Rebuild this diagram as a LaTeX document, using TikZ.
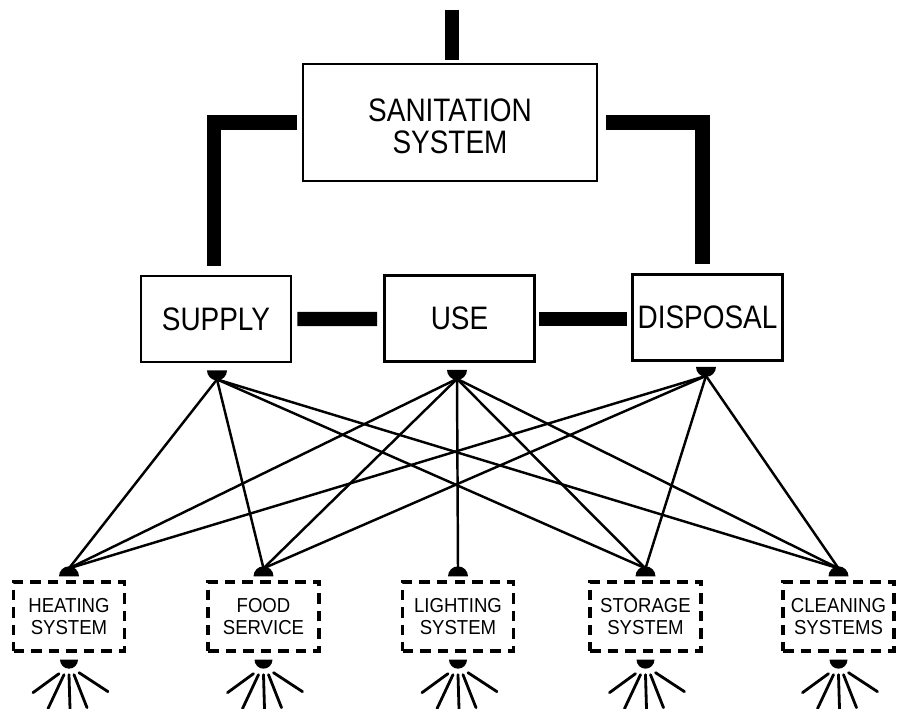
\documentclass[tikz,border=0pt]{standalone}
\usepackage{fontspec}
\usepackage{tikz}
\usetikzlibrary{calc}
\newfontfamily\handfont{Liberation Sans}[FakeStretch=0.86]
\newfontfamily\handsmall{Liberation Sans}[FakeStretch=0.92]
\colorlet{ink}{black}
\tikzset{
  mainbox/.style={draw=ink, line width=1.6pt, align=center, inner sep=0pt,
    font=\handfont\fontsize{18.5}{18.2}\selectfont, text=ink},
  topbox/.style={mainbox, minimum width=5.88cm, minimum height=2.34cm},
  midbox/.style={mainbox, minimum width=3.0cm, minimum height=1.72cm},
  % the dashed sub-system boxes
  subbox/.style={draw=ink, line width=1.9pt, dash pattern=on 6pt off 4pt,
    minimum width=2.22cm, minimum height=1.38cm, align=center, inner sep=0pt,
    font=\handsmall\fontsize{11.5}{12.8}\selectfont, text=ink},
  bar/.style={line width=8pt, color=ink},
  wire/.style={line width=1.4pt, color=ink},
  ray/.style={line width=1.6pt, color=ink, line cap=round},
  dome/.style={fill=ink},
}

\begin{document}
\begin{tikzpicture}[x=0.02cm,y=-0.02cm]
  \useasboundingbox (0,0) rectangle (910,709);

  \node[topbox] (san) at (450,122.5)
    {\raisebox{-0.17cm}[\height][\depth]{\begin{tabular}{@{}c@{}}SANITATION\\SYSTEM\end{tabular}}};
  \node[midbox] (supply) at (216,319) {SUPPLY};
  \node[midbox] (use) at (459.5,318.5) {USE};
  \node[midbox] (disposal) at (707.5,317.5) {DISPOSAL};

  % heavy links
  \coordinate (feed) at (452,10);
  \draw[bar] (feed) -- ($(san.north)+(2,-3)$);
  \draw[bar] ($(san.west)+(-5,0)$) -| ($(supply.north)+(-2,-9)$);
  \draw[bar] ($(san.east)+(8,0)$) -| ($(disposal.north)+(-5,-9)$);
  \draw[bar] ($(supply.east)+(5,0)$) -- ($(use.west)+(-6,0.5)$);
  \draw[bar] ($(use.east)+(3,0.5)$) -- ($(disposal.west)+(-4,1.5)$);

  % taps under the three stages
  \foreach \nm/\tag/\dx/\dy in {supply/s/1/7, use/u/-2.5/7, disposal/d/-1.5/5} {
    \fill[dome] ($(\nm.south)+(\dx-10,\dy)$) arc[start angle=180, end angle=360, radius=0.2cm] -- cycle;
    \coordinate (\tag-out) at ($(\nm.south)+(\dx,\dy+9)$);
  }

  \foreach \nm/\cx/\txt in {heat/69/{HEATING\\SYSTEM}, food/263.5/{FOOD\\SERVICE},
                            light/458/{LIGHTING\\SYSTEM}, store/645.5/{STORAGE\\SYSTEM},
                            clean/838.5/{CLEANING\\SYSTEMS}} {
    \node[subbox] (\nm) at (\cx,616.5) {\txt};
    \fill[dome] ($(\nm.north)+(-10,-4)$) arc[start angle=180, end angle=0, radius=0.2cm] -- cycle;
    \coordinate (\nm-in) at ($(\nm.north)+(0,-12)$);
    \fill[dome] ($(\nm.south)+(-9,7)$) arc[start angle=180, end angle=360, radius=0.18cm] -- cycle;
    \coordinate (\nm-out) at ($(\nm.south)+(0,18)$);
    \foreach \a/\b/\c/\d in {-10/3/-36/22, -5/4/-21/38, 0/4/1/38, 5/4/18/37, 10/2/39/21}
      \draw[ray] ($(\nm-out)+(\a,\b)$) -- ($(\nm-out)+(\c,\d)$);
  }

  \foreach \src/\dst in {s/heat, s/food, s/store, s/clean,
                         u/heat, u/food, u/light, u/store, u/clean,
                         d/heat, d/food, d/store, d/clean}
    \draw[wire] (\src-out) -- (\dst-in);
\end{tikzpicture}
\end{document}
